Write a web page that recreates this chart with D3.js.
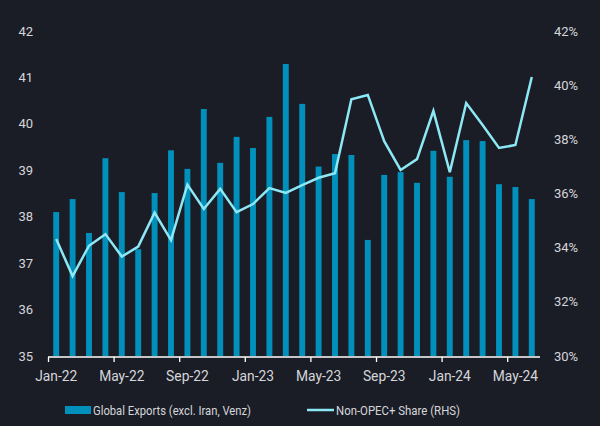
<!DOCTYPE html>
<html><head><meta charset="utf-8">
<script src="https://cdn.jsdelivr.net/npm/d3@7"></script>
<style>html,body{margin:0;padding:0;background:#1b1d26;}svg{display:block;}</style>
</head><body>
<svg id="c" width="600" height="426"></svg>
<script>
const months = ["Jan-22","Feb-22","Mar-22","Apr-22","May-22","Jun-22","Jul-22","Aug-22","Sep-22","Oct-22","Nov-22","Dec-22",
"Jan-23","Feb-23","Mar-23","Apr-23","May-23","Jun-23","Jul-23","Aug-23","Sep-23","Oct-23","Nov-23","Dec-23",
"Jan-24","Feb-24","Mar-24","Apr-24","May-24","Jun-24"];
const exportsVals = [38.10,38.38,37.65,39.26,38.53,37.30,38.51,39.43,39.03,40.32,39.16,39.72,
39.48,40.15,41.29,40.43,39.08,39.35,39.33,37.50,38.90,38.96,38.73,39.42,
38.86,39.65,39.63,38.70,38.64,38.38];
const shareVals = [34.32,32.95,34.07,34.50,33.67,34.04,35.29,34.28,36.33,35.43,36.17,35.31,
35.61,36.20,36.02,36.31,36.58,36.75,39.48,39.64,37.93,36.87,37.27,39.05,
36.79,39.34,38.53,37.68,37.79,40.30];
const leftTicks = [35,36,37,38,39,40,41,42];
const rightTicks = [30,32,34,36,38,40,42];
const xTickLabels = ["Jan-22","May-22","Sep-22","Jan-23","May-23","Sep-23","Jan-24","May-24"];
const seriesNames = ["Global Exports (excl. Iran, Venz)","Non-OPEC+ Share (RHS)"];

const svg = d3.select("#c");
const bg="#1b1d26", barCol="#0090bb", lineCol="#8de8f5", txt="#d4d6da";
svg.append("rect").attr("width",600).attr("height",426).attr("fill",bg);
const font="Roboto, 'Liberation Sans', sans-serif";

const x = d3.scaleBand().domain(months).range([48,540]).paddingInner(0.64).paddingOuter(0.32);
const yL = d3.scaleLinear().domain([35,42]).range([356,31]);
const yR = d3.scaleLinear().domain([30,42]).range([356,31]);
const step = x.step();
const cx = d => x(d)+x.bandwidth()/2;

// bars
svg.append("g").selectAll("rect").data(months).join("rect")
  .attr("x",d=>x(d)).attr("width",x.bandwidth())
  .attr("y",(d,i)=>yL(exportsVals[i])).attr("height",(d,i)=>yL(35)-yL(exportsVals[i]))
  .attr("fill",barCol);

// line
const line = d3.line().x((d,i)=>cx(months[i])).y(d=>yR(d));
svg.append("path").datum(shareVals).attr("d",line).attr("fill","none")
  .attr("stroke",lineCol).attr("stroke-width",2.5).attr("stroke-linejoin","miter");

// left axis labels
svg.append("g").selectAll("text").data(leftTicks).join("text")
  .attr("x",33).attr("y",d=>yL(d)).attr("dy","0.35em").attr("text-anchor","end")
  .attr("fill",txt).attr("font-family",font).attr("font-size",13).text(d=>d);
// right axis labels
svg.append("g").selectAll("text").data(rightTicks).join("text")
  .attr("x",554).attr("y",d=>yR(d)).attr("dy","0.35em").attr("text-anchor","start")
  .attr("fill",txt).attr("font-family",font).attr("font-size",13).text(d=>d+"%");

// x axis
const xAxis = d3.axisBottom(x).tickValues(xTickLabels).tickSize(5).tickSizeOuter(0);
const gx = svg.append("g").attr("transform","translate(0,357)").call(xAxis);
gx.select(".domain").attr("stroke","#ffffff").attr("stroke-width",1.3).attr("d","M48,0H540");
gx.selectAll(".tick").attr("transform",d=>`translate(${x(d)-x.paddingInner()*step/2+0.5},0)`);
gx.selectAll(".tick line").attr("stroke","#ffffff").attr("stroke-width",1.3);
gx.selectAll(".tick text").attr("fill",txt).attr("font-family",font).attr("font-size",13.8)
  .attr("dy",null).attr("y",24).attr("x",x.paddingInner()*step/2+x.bandwidth()/2-0.5).attr("text-anchor","middle");

// legend
const lg = svg.append("g");
lg.append("rect").attr("x",65).attr("y",406).attr("width",26).attr("height",8).attr("fill",barCol);
lg.append("text").attr("x",93).attr("y",410).attr("dy","0.35em").attr("fill",txt)
  .attr("font-family",font).attr("font-size",13)
  .attr("textLength",158).attr("lengthAdjust","spacingAndGlyphs").text(seriesNames[0]);
lg.append("line").attr("x1",307).attr("x2",334).attr("y1",410).attr("y2",410)
  .attr("stroke",lineCol).attr("stroke-width",2.5);
lg.append("text").attr("x",336).attr("y",410).attr("dy","0.35em").attr("fill",txt)
  .attr("font-family",font).attr("font-size",13)
  .attr("textLength",124).attr("lengthAdjust","spacingAndGlyphs").text(seriesNames[1]);
</script>
</body></html>
